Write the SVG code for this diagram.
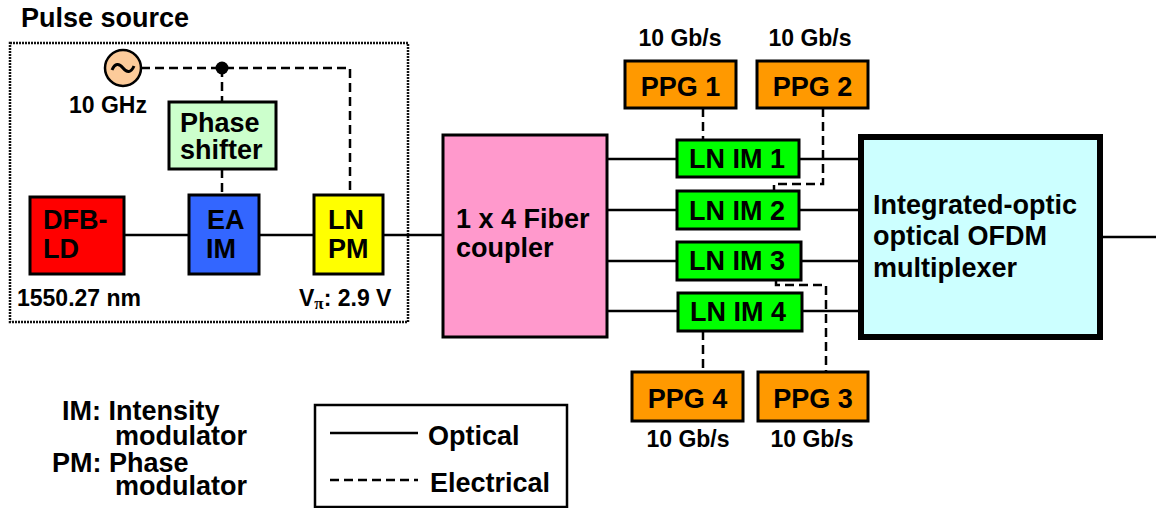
<svg xmlns="http://www.w3.org/2000/svg" width="1156" height="508" viewBox="0 0 1156 508">
<style>
text{font-family:"Liberation Sans",Arial,sans-serif;font-weight:bold;fill:#000}
.big{font-size:27px}
.sm{font-size:23px}
.box{stroke:#000;stroke-width:3}
.opt{stroke:#000;stroke-width:2.5;fill:none}
.ele{stroke:#000;stroke-width:2.5;fill:none;stroke-dasharray:9 5}
.mid{text-anchor:middle}
</style>
<rect width="1156" height="508" fill="#fff"/>

<g id="pulse-source">
<rect x="10" y="43" width="398" height="279" fill="none" stroke="#111" stroke-width="2.5" stroke-dasharray="2 1"/>
<text class="big" x="21" y="27">Pulse source</text>
<text class="sm" x="17" y="306">1550.27 nm</text>
<text class="sm" x="299" y="306">V<tspan font-family="'Liberation Serif',serif" font-size="17" dy="3">π</tspan><tspan dy="-3">: 2.9 V</tspan></text>
</g>

<g id="connectors">
<line class="opt" x1="124" y1="235" x2="189" y2="235"/>
<line class="opt" x1="259" y1="235" x2="314" y2="235"/>
<line class="opt" x1="383" y1="235" x2="443" y2="235"/>
<line class="opt" x1="607" y1="159" x2="677" y2="159"/>
<line class="opt" x1="607" y1="210" x2="677" y2="210"/>
<line class="opt" x1="607" y1="261" x2="677" y2="261"/>
<line class="opt" x1="607" y1="311" x2="678" y2="311"/>
<line class="opt" x1="799" y1="159" x2="858" y2="159"/>
<line class="opt" x1="799" y1="210" x2="858" y2="210"/>
<line class="opt" x1="801" y1="261" x2="858" y2="261"/>
<line class="opt" x1="802" y1="311" x2="858" y2="311"/>
<line class="opt" x1="1103" y1="237" x2="1156" y2="237"/>
<polyline class="ele" points="141,68 350,68 350,195"/>
<line class="ele" x1="222" y1="68" x2="222" y2="102"/>
<line class="ele" x1="222" y1="169" x2="222" y2="195"/>
<line class="ele" x1="703" y1="108" x2="703" y2="140"/>
<polyline class="ele" points="823,108 823,184 774,184 774,191"/>
<polyline class="ele" points="776,280 776,285 826,285 826,372"/>
<line class="ele" x1="703" y1="331" x2="703" y2="372"/>
<circle cx="222" cy="68" r="6.5" fill="#000"/>
</g>

<g id="oscillator">
<circle cx="123" cy="68" r="18" fill="#FCCB9A" stroke="#000" stroke-width="2.5"/>
<path d="M112,70 c3,-7 7,-7 11,-2 s8,5 11,-2" fill="none" stroke="#000" stroke-width="3"/>
<text class="sm" x="69" y="113">10 GHz</text>
</g>

<g id="phase-shifter">
<rect class="box" x="169" y="102" width="107" height="67" fill="#CCFFCC"/>
<text class="big" x="180" y="132">Phase</text>
<text class="big" x="180" y="159">shifter</text>
</g>

<g id="dfb-ld">
<rect class="box" x="30" y="197" width="94" height="77" fill="#FF0000"/>
<text class="big" x="43" y="229">DFB-</text>
<text class="big" x="43" y="258">LD</text>
</g>

<g id="ea-im">
<rect class="box" x="189" y="195" width="70" height="79" fill="#3366FF"/>
<text class="big" x="207" y="229">EA</text>
<text class="big" x="206" y="258">IM</text>
</g>

<g id="ln-pm">
<rect class="box" x="314" y="195" width="69" height="79" fill="#FFFF00"/>
<text class="big" x="328" y="229">LN</text>
<text class="big" x="328" y="258">PM</text>
</g>

<g id="coupler">
<rect class="box" x="443" y="135" width="164" height="202" fill="#FF99CC"/>
<text class="big" x="456" y="228">1 x 4 Fiber</text>
<text class="big" x="456" y="257">coupler</text>
</g>

<g id="ln-im-1">
<rect class="box" x="677" y="140" width="122" height="37" fill="#00FF00"/>
<text class="big" x="689" y="168">LN IM 1</text>
</g>
<g id="ln-im-2">
<rect class="box" x="677" y="191" width="122" height="38" fill="#00FF00"/>
<text class="big" x="689" y="220">LN IM 2</text>
</g>
<g id="ln-im-3">
<rect class="box" x="677" y="242" width="124" height="38" fill="#00FF00"/>
<text class="big" x="689" y="270">LN IM 3</text>
</g>
<g id="ln-im-4">
<rect class="box" x="678" y="293" width="124" height="38" fill="#00FF00"/>
<text class="big" x="690" y="321">LN IM 4</text>
</g>

<g id="ppg-1">
<rect class="box" x="625" y="61" width="111" height="47" fill="#FF9900"/>
<text class="big mid" x="680.5" y="96">PPG 1</text>
<text class="sm mid" x="680" y="46">10 Gb/s</text>
</g>
<g id="ppg-2">
<rect class="box" x="757" y="61" width="111" height="47" fill="#FF9900"/>
<text class="big mid" x="812.5" y="96">PPG 2</text>
<text class="sm mid" x="810" y="46">10 Gb/s</text>
</g>
<g id="ppg-4">
<rect class="box" x="632" y="372" width="111" height="49" fill="#FF9900"/>
<text class="big mid" x="687.5" y="408">PPG 4</text>
<text class="sm mid" x="688" y="447">10 Gb/s</text>
</g>
<g id="ppg-3">
<rect class="box" x="758" y="372" width="110" height="49" fill="#FF9900"/>
<text class="big mid" x="813" y="408">PPG 3</text>
<text class="sm mid" x="812" y="447">10 Gb/s</text>
</g>

<g id="multiplexer">
<rect x="861" y="137" width="239" height="200" fill="#CCFFFF" stroke="#000" stroke-width="6"/>
<text class="big" x="873" y="214">Integrated-optic</text>
<text class="big" x="873" y="245">optical OFDM</text>
<text class="big" x="873" y="277">multiplexer</text>
</g>

<g id="abbreviations">
<text class="big" x="62" y="420">IM: Intensity</text>
<text class="big" x="115" y="445">modulator</text>
<text class="big" x="52" y="472">PM: Phase</text>
<text class="big" x="115" y="495">modulator</text>
</g>

<g id="legend">
<rect x="315" y="405" width="252" height="102" fill="none" stroke="#000" stroke-width="2.5"/>
<line class="opt" x1="330" y1="433" x2="418" y2="433"/>
<line class="ele" x1="330" y1="480" x2="418" y2="480"/>
<text class="big" x="428" y="445">Optical</text>
<text class="big" x="430" y="492">Electrical</text>
</g>
</svg>
